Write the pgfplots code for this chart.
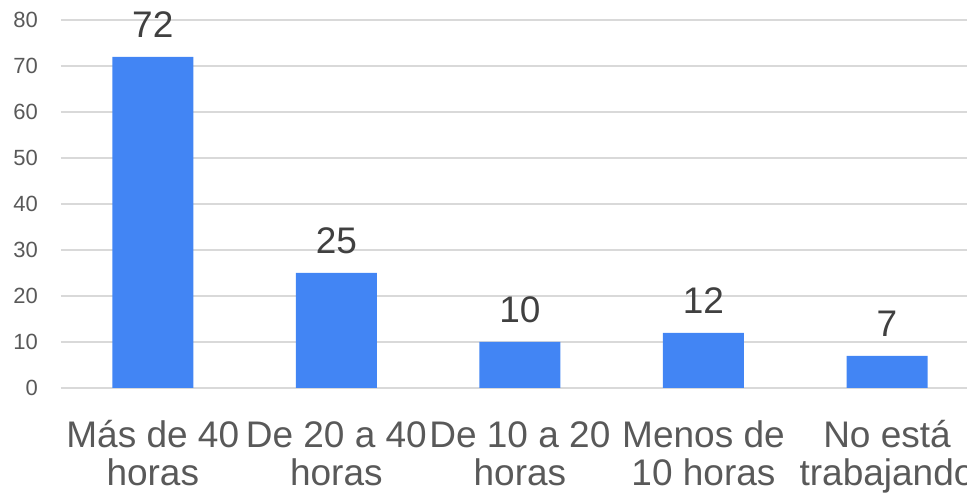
\documentclass[border=0pt]{standalone}
\usepackage{pgfplots}
\pgfplotsset{compat=1.18}
\usepackage{fontspec}
\setmainfont{Liberation Sans}
\definecolor{barblue}{RGB}{66,133,244}
\definecolor{gridgray}{RGB}{217,217,217}
\definecolor{tickgray}{RGB}{89,89,89}
\definecolor{labgray}{RGB}{89,89,89}
\definecolor{datagray}{RGB}{64,64,64}
\newcommand{\fl}{\rule{0pt}{30pt}}
\begin{document}
\begin{tikzpicture}
\begin{axis}[
  scale only axis, width=917.8pt, height=368pt,
  xmin=-0.5, xmax=4.5, ymin=0, ymax=80,
  ytick={0,10,...,80},
  xtick={0,1,2,3,4},
  xticklabels={{\fl Más de 40\\horas},{\fl De 20 a 40\\horas},{\fl De 10 a 20\\horas},{\fl Menos de\\10 horas},{\fl No está\\trabajando}},
  ymajorgrids, grid style={draw=gridgray, line width=1.3pt},
  axis line style={draw=none},
  major tick length=0pt,
  tick style={draw=none},
  /pgf/number format/assume math mode=true,
  yticklabel style={font=\fontsize{22}{26}\selectfont, text=tickgray, inner sep=0pt, xshift=-23pt},
  xticklabel style={font=\fontsize{37}{38}\selectfont, text=labgray, align=center, inner sep=0pt, anchor=north, yshift=-29pt},
  nodes near coords,
  nodes near coords style={font=\fontsize{37}{38}\selectfont, text=datagray, anchor=south, inner sep=0pt, yshift=19pt},
]
\addplot[ybar, bar width=81pt, fill=barblue, draw=none] coordinates {(0,72) (1,25) (2,10) (3,12) (4,7)};
\end{axis}
\pgfresetboundingbox
\path (current axis.south west) ++(-61pt,-106pt) rectangle ++(967pt,494pt);
\end{tikzpicture}
\end{document}
